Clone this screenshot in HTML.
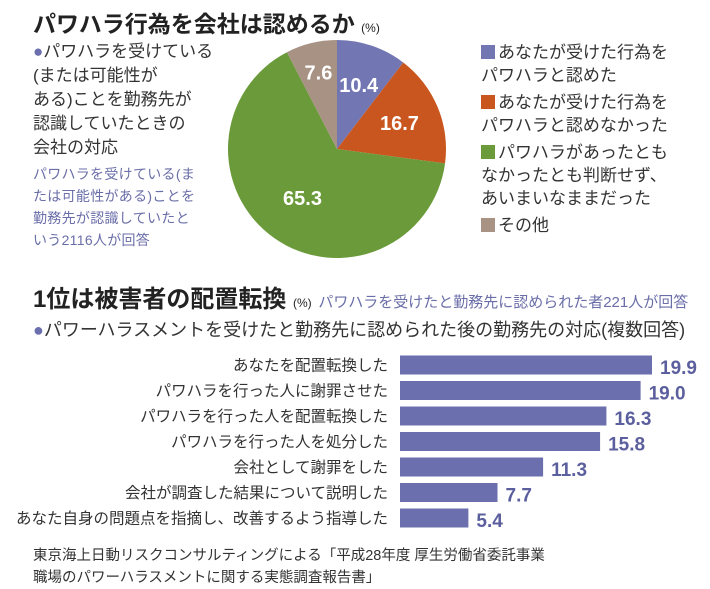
<!DOCTYPE html>
<html><head><meta charset="utf-8"><style>
body{margin:0;width:710px;height:588px;background:#fff;font-family:"Liberation Sans","Noto Sans CJK JP",sans-serif;color:#333;position:relative;overflow:hidden}
.a{position:absolute;white-space:nowrap}
.t{font-weight:bold;font-size:23px;color:#222}
.s{font-size:17px;line-height:24px;color:#333}
.p{font-size:14px;line-height:22px;color:#6a6ea8;letter-spacing:0.3px}
.sq{display:inline-block;width:14px;height:14px;margin-right:3px;vertical-align:-1px}
</style></head><body>
<div class="a t" style="left:33px;top:5px">パワハラ行為を会社は認めるか <span style="font-size:12px;font-weight:normal">(%)</span></div>
<div class="a s" style="left:33px;top:40px"><span style="color:#6b6fae">●</span>パワハラを受けている<br>(または可能性が<br>ある)ことを勤務先が<br>認識していたときの<br>会社の対応</div>
<div class="a p" style="left:33px;top:163px">パワハラを受けている(ま<br>たは可能性がある)ことを<br>勤務先が認識していたと<br>いう2116人が回答</div>
<svg class="a" style="left:0;top:0" width="710" height="270" id="pie"></svg>
<div class="a s" style="left:481px;top:41px;line-height:23px">
<div><span class="sq" style="background:#7277b4"></span>あなたが受けた行為を<br>パワハラと認めた</div>
<div style="margin-top:4px"><span class="sq" style="background:#c8561e"></span>あなたが受けた行為を<br>パワハラと認めなかった</div>
<div style="margin-top:4px"><span class="sq" style="background:#6a9a3a"></span>パワハラがあったとも<br>なかったとも判断せず、<br>あいまいなままだった</div>
<div style="margin-top:4px"><span class="sq" style="background:#a89284"></span>その他</div>
</div>
<div class="a t" style="left:33px;top:279px;font-size:24px">1位は被害者の配置転換 <span style="font-size:12px;font-weight:normal">(%)</span> <span style="font-size:15px;font-weight:normal;color:#6a6ea8">パワハラを受けたと勤務先に認められた者221人が回答</span></div>
<div class="a" style="left:33px;top:316px;font-size:18px"><span style="color:#6b6fae">●</span>パワーハラスメントを受けたと勤務先に認められた後の勤務先の対応(複数回答)</div>
<svg class="a" style="left:0;top:340px" width="710" height="200" id="bar"></svg>
<div class="a" style="left:33px;top:545px;font-size:14.5px;line-height:22px">東京海上日動リスクコンサルティングによる「平成28年度 厚生労働省委託事業<br>職場のパワーハラスメントに関する実態調査報告書」</div>
<script>
const pieLabels=["10.4","16.7","65.3","7.6"];
const pieValues=[10.4,16.7,65.3,7.6];
const pieColors=["#7277b4","#c8561e","#6a9a3a","#a89284"];
const barCats=["あなたを配置転換した","パワハラを行った人に謝罪させた","パワハラを行った人を配置転換した","パワハラを行った人を処分した","会社として謝罪をした","会社が調査した結果について説明した","あなた自身の問題点を指摘し、改善するよう指導した"];
const barValues=[19.9,19.0,16.3,15.8,11.3,7.7,5.4];
const NS="http://www.w3.org/2000/svg";
function mk(p,t,a){const e=document.createElementNS(NS,t);for(const k in a)e.setAttribute(k,a[k]);p.appendChild(e);return e;}
const pie=document.getElementById('pie');
const cx=337,cy=149,r=109;
const tot=pieValues.reduce((a,b)=>a+b,0);
let ang=0;
pieValues.forEach((v,i)=>{
 const a0=ang/tot*2*Math.PI,a1=(ang+v)/tot*2*Math.PI;ang+=v;
 const x0=cx+r*Math.sin(a0),y0=cy-r*Math.cos(a0),x1=cx+r*Math.sin(a1),y1=cy-r*Math.cos(a1);
 const s=mk(pie,'path',{d:`M${cx},${cy}L${x0},${y0}A${r},${r} 0 ${a1-a0>Math.PI?1:0} 1 ${x1},${y1}Z`,fill:pieColors[i]});
 
 
 const am=(a0+a1)/2,lr=i==2?0.55:(i==3?0.72:0.62);
 const t=mk(pie,'text',{x:cx+r*lr*Math.sin(am),y:cy-r*lr*Math.cos(am)+7,'text-anchor':'middle',fill:'#fff','font-size':'20','font-weight':'bold','font-family':'Liberation Sans Narrow, Liberation Sans, sans-serif'});
 t.textContent=pieLabels[i];
 
 
});
const bar=document.getElementById('bar');
const x0=400,sc=252/19.9,rowH=25.5,bh=19;
function xs(v){return v*sc;}
barCats.forEach((c,i)=>{
 const yc=25+i*rowH;
 const r1=mk(bar,'rect',{x:x0,y:yc-bh/2,width:xs(barValues[i]),height:bh,fill:'#6b6fae'});
 
 
 const l=mk(bar,'text',{x:388,y:yc+5.5,'text-anchor':'end','font-size':'15.5',fill:'#333','font-family':'Liberation Sans, Noto Sans CJK JP, sans-serif'});
 l.textContent=c;
 
 
 const v=mk(bar,'text',{x:x0+xs(barValues[i])+8,y:yc+9,'font-size':'19','font-weight':'bold',fill:'#5c5f9e','font-family':'Liberation Sans Narrow, Liberation Sans, sans-serif'});
 v.textContent=barValues[i].toFixed(1);
 
 
});
</script>
</body></html>
